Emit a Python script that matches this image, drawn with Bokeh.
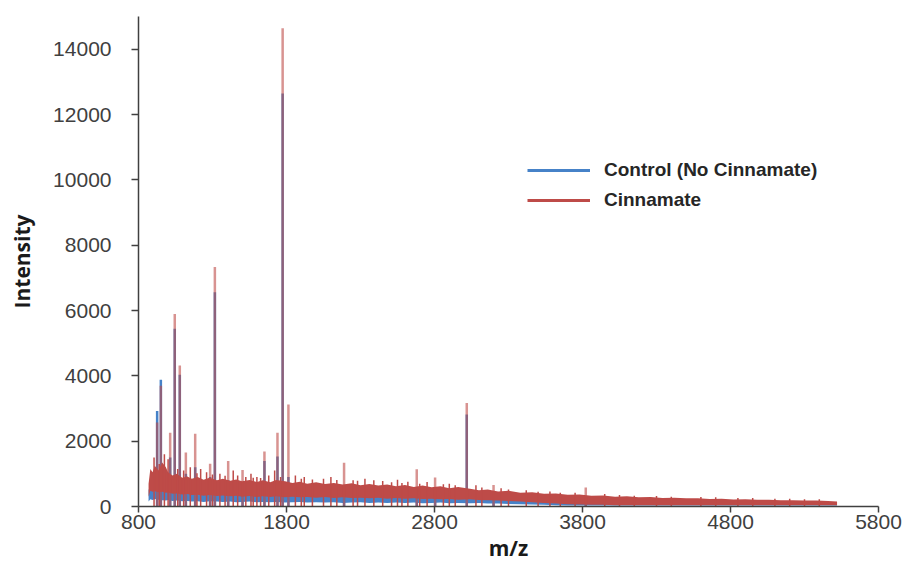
from bokeh.plotting import figure
from bokeh.models import Range1d, FixedTicker, Legend, LegendItem, ColumnDataSource
from bokeh.embed import file_html
from bokeh.resources import INLINE

# ---- data ----
x_ticks = [800, 1800, 2800, 3800, 4800, 5800]
y_ticks = [0, 2000, 4000, 6000, 8000, 10000, 12000, 14000]

mz_grid = [868, 880, 895, 910, 935, 960, 985, 1000, 1030, 1060,
           1095, 1130, 1160, 1200, 1240, 1280, 1330, 1370, 1420, 1460,
           1500, 1550, 1600, 1640, 1690, 1730, 1790, 1840, 1890, 1940,
           2000, 2060, 2120, 2180, 2240, 2300, 2360, 2420, 2480, 2540,
           2600, 2660, 2720, 2780, 2840, 2900, 2960, 3040, 3100, 3160,
           3230, 3300, 3380, 3460, 3540, 3620, 3700, 3780, 3860, 3940,
           4020, 4100, 4180, 4260, 4340, 4420, 4500, 4580, 4660, 4740,
           4820, 4900, 4980, 5060, 5140, 5220, 5300, 5380, 5460, 5520]

# Cinnamate noise band (upper / lower envelope)
cin_hi = [700, 1150, 1050, 1250, 1100, 1350, 1200, 1050, 950, 1000,
          880, 920, 850, 900, 820, 880, 800, 850, 790, 830,
          770, 810, 750, 800, 740, 810, 770, 720, 760, 700,
          740, 690, 720, 670, 710, 650, 690, 640, 670, 620,
          660, 600, 640, 590, 620, 560, 600, 540, 500, 520,
          460, 480, 420, 440, 390, 400, 360, 370, 330, 340,
          300, 310, 280, 290, 260, 270, 250, 255, 230, 240,
          215, 225, 205, 210, 190, 195, 180, 185, 170, 150]
cin_lo = [300, 480, 450, 470, 440, 450, 420, 430, 390, 400,
          370, 380, 350, 360, 330, 350, 320, 340, 310, 330,
          300, 320, 290, 310, 290, 310, 280, 300, 280, 290,
          270, 290, 260, 280, 260, 270, 250, 270, 240, 260,
          240, 250, 230, 240, 220, 230, 210, 220, 200, 190,
          180, 170, 150, 130, 110, 90, 70, 60, 50, 50,
          40, 40, 40, 40, 40, 40, 40, 40, 40, 40,
          40, 40, 40, 40, 40, 40, 40, 40, 40, 40]

# Control noise band (upper / lower envelope)
ctl_hi = [500, 700, 680, 660, 650, 640, 620, 600, 580, 560,
          540, 530, 520, 510, 500, 490, 480, 470, 460, 450,
          440, 430, 420, 410, 400, 400, 390, 390, 380, 380,
          370, 370, 360, 360, 350, 350, 340, 340, 330, 330,
          320, 320, 310, 310, 300, 300, 290, 280, 270, 260,
          250, 240, 220, 200, 180, 160, 150, 140, 130, 120,
          115, 110, 105, 100, 100, 95, 95, 90, 90, 85,
          85, 80, 80, 80, 75, 75, 70, 70, 70, 65]
ctl_lo = [150, 220, 200, 230, 210, 190, 180, 200, 170, 180,
          160, 170, 150, 160, 140, 160, 150, 140, 150, 130,
          140, 150, 130, 140, 130, 140, 120, 130, 140, 120,
          130, 120, 130, 110, 120, 130, 110, 120, 110, 120,
          110, 120, 100, 110, 120, 100, 110, 100, 110, 90,
          90, 80, 70, 60, 50, 40, 30, 30, 30, 30,
          30, 30, 30, 30, 30, 30, 30, 30, 30, 30,
          30, 30, 30, 30, 30, 30, 30, 30, 30, 30]

# main peaks
peak_mz = [926, 951, 1014, 1045, 1079, 1120, 1183, 1284, 1316, 1406, 1503,
           1651, 1739, 1774, 1813, 2189, 2680, 2804, 3018, 3199, 3822]
cin_peak = [2570, 3700, 2260, 5890, 4320, 1650, 2225, 1310, 7330, 1390, 1120,
            1680, 2255, 14640, 3120, 1340, 1140, 885, 3170, 660, 580]
ctl_peak = [2920, 3880, 1500, 5440, 4035, 1000, 1200, 900, 6560, 800, 700,
            1390, 1530, 12640, 900, 600, 500, 500, 2815, 300, 250]

# small spikes in the cinnamate noise
spike_mz = [905, 940, 975, 1000, 1105, 1150, 1220, 1260, 1350, 1440,
            1470, 1560, 1600, 1680, 1720, 1860, 1920, 2050, 2100, 2250,
            2330, 2450, 2550, 2620, 2750, 2900, 3080, 3300, 3500, 3650,
            3950, 4150, 4400, 4700, 4950, 5200, 5400,
            1065, 1195, 1300, 1385, 1525, 1575, 1625, 1760, 1900, 1975,
            2140, 2280, 2390, 2510, 2580, 2700, 2860, 2940, 3120, 3250,
            3420, 3580, 3750, 4050, 4300, 4600, 4850, 5100, 5300]
spike_int = [1500, 1300, 1600, 1450, 1100, 1200, 1150, 1050, 1000, 1100,
             950, 1000, 900, 950, 1100, 950, 900, 850, 900, 800,
             850, 780, 820, 760, 750, 700, 650, 520, 450, 420,
             380, 330, 300, 280, 260, 240, 220,
             1150, 1020, 980, 940, 900, 880, 870, 900, 850, 830,
             810, 790, 800, 740, 720, 700, 680, 650, 580, 560,
             500, 460, 420, 350, 320, 290, 260, 240, 220]

series_names = ["Control (No Cinnamate)", "Cinnamate"]

# ---- styles ----
BLUE = "#4682C8"
RED = "#BE4B48"
AXIS = "#404040"

p = figure(width=908, height=568, x_range=Range1d(800, 5800), y_range=Range1d(0, 15000),
           output_backend="svg", toolbar_location=None,
           min_border_left=138, min_border_right=30, min_border_top=16, min_border_bottom=62)
p.outline_line_color = None
p.xgrid.visible = False
p.ygrid.visible = False
p.background_fill_color = "white"
p.border_fill_color = "white"

band = ColumnDataSource(dict(x=mz_grid, chi=cin_hi, clo=cin_lo, bhi=ctl_hi, blo=ctl_lo))
peaks = ColumnDataSource(dict(x=peak_mz, c=cin_peak, b=ctl_peak, z=[0] * len(peak_mz)))
spikes = ColumnDataSource(dict(x=spike_mz, y=spike_int, z=[0] * len(spike_mz)))

# control (drawn first)
p.varea(x="x", y1="blo", y2="bhi", source=band, fill_color=BLUE)
p.segment(x0="x", y0="z", x1="x", y1="b", source=peaks, line_color=BLUE, line_width=2.5)

# cinnamate on top
p.varea(x="x", y1="clo", y2="chi", source=band, fill_color=RED)
p.segment(x0="x", y0="z", x1="x", y1="y", source=spikes, line_color=RED, line_width=1.5)
p.segment(x0="x", y0="z", x1="x", y1="c", source=peaks, line_color=RED, line_width=2.5,
          line_alpha=0.6)

# legend glyph renderers (zero-length, hidden under the band)
leg_src = ColumnDataSource(dict(x=[mz_grid[5], mz_grid[5]], y=[0, 0]))
leg_b = p.line(x="x", y="y", source=leg_src, line_color=BLUE, line_width=3, line_cap="butt")
leg_r = p.line(x="x", y="y", source=leg_src, line_color=RED, line_width=3, line_cap="butt")
legend = Legend(items=[LegendItem(label=series_names[0], renderers=[leg_b]),
                       LegendItem(label=series_names[1], renderers=[leg_r])],
                location=(389, 295), border_line_color=None, background_fill_alpha=0,
                label_text_font="Liberation Sans", label_text_font_style="bold",
                label_text_font_size="19px", label_text_color="#262626",
                glyph_width=63, glyph_height=20, label_height=20, spacing=8,
                padding=0, margin=0, label_standoff=14)
p.add_layout(legend)

# axes
for ax in (p.xaxis[0], p.yaxis[0]):
    ax.axis_line_color = AXIS
    ax.axis_line_width = 1.5
    ax.major_tick_line_color = AXIS
    ax.major_tick_line_width = 1.5
    ax.major_tick_in = 0
    ax.minor_tick_line_color = None
    ax.major_label_text_font = "Liberation Sans"
    ax.major_label_text_font_size = "21px"
    ax.major_label_text_color = AXIS
    ax.axis_label_text_font = "Open Sans"
    ax.axis_label_text_font_style = "bold"
    ax.axis_label_text_font_size = "21px"
    ax.axis_label_text_color = "#1a1a1a"

p.xaxis.ticker = FixedTicker(ticks=x_ticks)
p.yaxis.ticker = FixedTicker(ticks=y_ticks)
p.xaxis.major_tick_out = 6
p.yaxis.major_tick_out = 7
p.xaxis.major_label_standoff = 2
p.yaxis.major_label_standoff = 20
p.xaxis.axis_label = "m/z"
p.yaxis.axis_label = "Intensity"
p.xaxis.axis_label_standoff = 2
p.yaxis.axis_label_standoff = 14

open("out.html", "w").write(file_html(p, INLINE))
